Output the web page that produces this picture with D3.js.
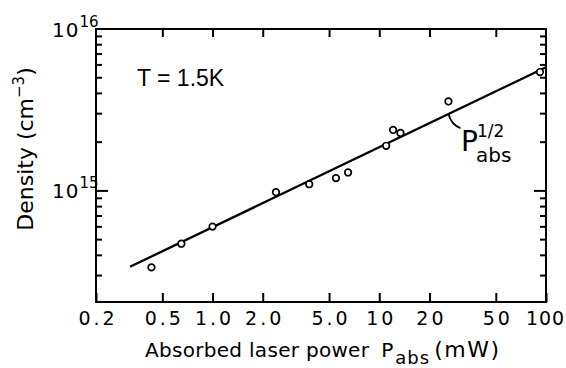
<!DOCTYPE html>
<html>
<head>
<meta charset="utf-8">
<script src="https://cdn.jsdelivr.net/npm/d3@7"></script>
<style>
  body { margin: 0; background: #fff; }
  svg { display: block; font-family: "DejaVu Sans", sans-serif; }
</style>
</head>
<body>
<div id="chart"></div>
<script>
// Messpunkte
var power   = [0.43, 0.65, 1.0, 2.4, 3.8, 5.5, 6.5, 11, 12.1, 13.4, 26, 92];
var density = [3.37e14, 4.72e14, 6.02e14, 9.82e14, 1.10e15, 1.20e15, 1.30e15, 1.90e15, 2.38e15, 2.28e15, 3.57e15, 5.42e15];

// Gerade ~ P^(1/2)
var fitPower   = [0.32, 100];
var fitDensity = [3.4e14, 5.8e15];

// Achsen
var xTicks = [0.2, 0.5, 1.0, 2.0, 5.0, 10, 20, 50, 100];
var xTickLabels = ["0.2", "0.5", "1.0", "2.0", "5.0", "10", "20", "50", "100"];
var yMajor = [1e15, 1e16];
var yMajorLabels = ["15", "16"];
var yMinor = [3e14, 4e14, 5e14, 6e14, 7e14, 8e14, 9e14, 2e15, 3e15, 4e15, 5e15, 6e15, 7e15, 8e15, 9e15];

var W = 566, H = 368;
var margin = {top: 29, right: 20, bottom: 66, left: 96};

var svg = d3.select("#chart").append("svg")
    .attr("width", W).attr("height", H);

var x = d3.scaleLog().domain([0.2, 100]).range([margin.left, W - margin.right]);
var y = d3.scaleLog().domain([2.06e14, 1e16]).range([H - margin.bottom, margin.top]);

var x0 = x.range()[0], x1 = x.range()[1], y0 = y.range()[0], y1 = y.range()[1];

// Rahmen
svg.append("rect")
    .attr("x", x0).attr("y", y1)
    .attr("width", x1 - x0).attr("height", y0 - y1)
    .attr("fill", "none").attr("stroke", "#000").attr("stroke-width", 2);

// untere Achse
var xAxis = svg.append("g")
    .attr("transform", "translate(0," + y0 + ")")
    .call(d3.axisBottom(x).tickValues(xTicks)
        .tickFormat(function(d, i){ return xTickLabels[i]; })
        .tickSizeInner(-9).tickSizeOuter(0).tickPadding(10));
xAxis.select(".domain").remove();
xAxis.selectAll("line").attr("stroke-width", 2);
xAxis.selectAll("text")
    .attr("font-size", 19).attr("font-family", "DejaVu Sans")
    .attr("dx", function(d){ return d === 100 ? -1 : 1.5; })
    .attr("fill", "#000")
    .style("letter-spacing", function(d){ return d === 100 ? "1px" : "3px"; });

// obere Achse (nur Striche)
var xTop = svg.append("g")
    .attr("transform", "translate(0," + y1 + ")")
    .call(d3.axisTop(x).tickValues(xTicks.slice(1, -1)).tickFormat("")
        .tickSizeInner(-8).tickSizeOuter(0));
xTop.select(".domain").remove();
xTop.selectAll("line").attr("stroke-width", 2);

// linke + rechte Achse: Striche nach innen
[[x0, 1], [x1, -1]].forEach(function(s){
    svg.append("g").selectAll("line")
        .data(yMajor.concat(yMinor))
        .enter().append("line")
        .attr("x1", s[0])
        .attr("x2", function(d){ return s[0] + s[1] * (yMajor.indexOf(d) >= 0 ? 12 : 6); })
        .attr("y1", function(d){ return y(d); })
        .attr("y2", function(d){ return y(d); })
        .attr("stroke", "#000").attr("stroke-width", 2);
});

// y-Beschriftung 10^15, 10^16
var yl = svg.append("g").selectAll("text")
    .data(yMajor)
    .enter().append("text")
    .attr("x", 52)
    .attr("y", function(d){ return y(d) + 7.5; })
    .attr("fill", "#000");
yl.append("tspan").attr("font-size", 20).style("letter-spacing", "1px").text("10");
yl.append("tspan").attr("font-size", 15).attr("dy", -10)
    .text(function(d, i){ return yMajorLabels[i]; });

// Ausgleichsgerade
svg.append("path")
    .datum(fitPower.map(function(p, i){ return [p, fitDensity[i]]; }))
    .attr("d", d3.line().x(function(d){ return x(d[0]); }).y(function(d){ return y(d[1]); }))
    .attr("fill", "none").attr("stroke", "#000").attr("stroke-width", 2.3);

// Messpunkte
svg.append("g").selectAll("circle")
    .data(power)
    .enter().append("circle")
    .attr("cx", function(d){ return x(d); })
    .attr("cy", function(d, i){ return y(density[i]); })
    .attr("r", 3.3)
    .attr("fill", "#fff").attr("stroke", "#000").attr("stroke-width", 1.7);

// Hinweis P_abs^(1/2)
var slope = Math.log(fitDensity[1] / fitDensity[0]) / Math.log(fitPower[1] / fitPower[0]);
var pA = 26, dA = fitDensity[0] * Math.pow(pA / fitPower[0], slope);
var ax = x(pA), ay = y(dA);
svg.append("path")
    .attr("d", "M" + ax + "," + ay + " Q" + (ax + 3) + "," + (ay + 11) + " " + (ax + 12) + "," + (ay + 14))
    .attr("fill", "none").attr("stroke", "#000").attr("stroke-width", 1.8);

var ann = svg.append("text").attr("x", 461).attr("y", 151).attr("fill", "#000");
ann.append("tspan").attr("font-size", 28).text("P");
ann.append("tspan").attr("font-size", 17).attr("x", 477).attr("dy", -14).text("1/2");
ann.append("tspan").attr("font-size", 20).attr("x", 476).attr("dy", 25).text("abs");

// T = 1.5K
svg.append("text")
    .attr("x", 137).attr("y", 86)
    .attr("font-size", 23).attr("font-family", "Liberation Sans")
    .attr("fill", "#000")
    .text("T = 1.5K");

// Achsentitel
var xt = svg.append("text")
    .attr("x", 145).attr("y", 357)
    .attr("font-size", 20).attr("fill", "#000");
xt.append("tspan").style("letter-spacing", "0.3px").text("Absorbed laser power");
xt.append("tspan").attr("dx", 12).text("P");
xt.append("tspan").attr("font-size", 18).attr("dy", 7).attr("dx", 2).style("letter-spacing", "1px").text("abs");
xt.append("tspan").attr("dy", -7).attr("dx", 4).style("letter-spacing", "1.5px").attr("font-size", 22).text("(mW)");

var yt = svg.append("text")
    .attr("transform", "translate(33,149) rotate(-90)")
    .attr("text-anchor", "middle")
    .attr("font-size", 22).attr("fill", "#000");
yt.append("tspan").text("Density (cm");
yt.append("tspan").attr("font-size", 15).attr("dy", -9).text("\u22123");
yt.append("tspan").attr("dy", 9).text(")");
</script>
</body>
</html>
